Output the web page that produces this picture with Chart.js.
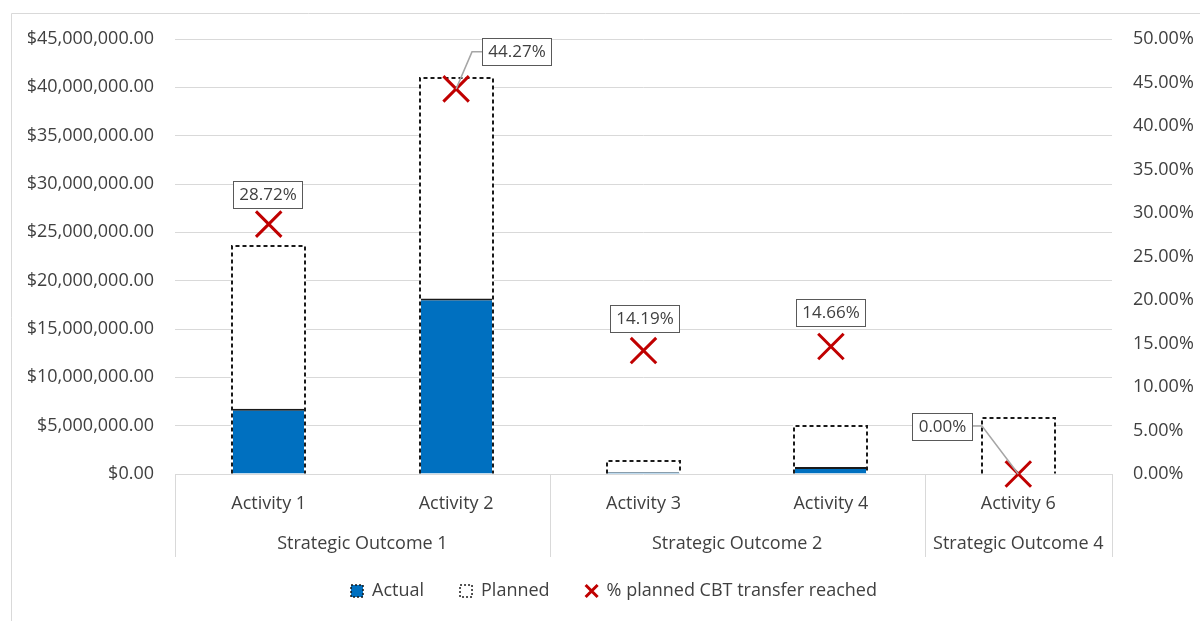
<!DOCTYPE html>
<html>
<head>
<meta charset="utf-8">
<title>CBT transfers by activity</title>
<script src="https://cdn.jsdelivr.net/npm/chart.js@4.4.1/dist/chart.umd.min.js"></script>
<style>
  html, body { margin: 0; padding: 0; background: #fff; }
</style>
</head>
<body>
<canvas id="myChart" width="1200" height="621"></canvas>
<script>
/* globals Chart:false */

// data
const categories = ['Activity 1', 'Activity 2', 'Activity 3', 'Activity 4', 'Activity 6']
const outcomes = ['Strategic Outcome 1', 'Strategic Outcome 2', 'Strategic Outcome 4']
const outcomeSpans = [2, 2, 1]
const actual = [6760000, 18150000, 190000, 730000, 0]
const planned = [23540000, 41000000, 1340000, 4980000, 5800000]
const reached = [28.72, 44.27, 14.19, 14.66, 0.00]

const textColor = '#404040'
const gridColor = '#d9d9d9'
const blue = '#0070c0'
const red = '#c00000'
const fontFamily = '"Open Sans", sans-serif'

// light frame round the chart (only left and top edges show)
const frame = {
  id: 'frame',
  beforeDraw(chart) {
    const c = chart.ctx
    c.save()
    c.fillStyle = '#fff'
    c.fillRect(0, 0, chart.width, chart.height)
    c.strokeStyle = gridColor
    c.lineWidth = 1
    c.beginPath()
    c.moveTo(11.5, chart.height)
    c.lineTo(11.5, 13.5)
    c.lineTo(chart.width, 13.5)
    c.stroke()
    c.restore()
  }
}

// dashed outline of the planned bars, drawn over the actual bars
const dashedPlanned = {
  id: 'dashedPlanned',
  afterDatasetDraw(chart, args) {
    if (args.index !== 0) return
    const meta = chart.getDatasetMeta(1)
    const c = chart.ctx
    c.save()
    c.lineWidth = 2
    meta.data.forEach(bar => {
      const { x, y, base, width } = bar.getProps(['x', 'y', 'base', 'width'], true)
      const l = Math.round(x - width / 2)
      const r = Math.round(x + width / 2)
      const t = Math.round(y)
      c.beginPath()
      c.moveTo(l, base)
      c.lineTo(l, t)
      c.lineTo(r, t)
      c.lineTo(r, base)
      c.setLineDash([])
      c.strokeStyle = '#fff'
      c.stroke()
      c.setLineDash([4, 3])
      c.strokeStyle = '#1a1a1a'
      c.stroke()
    })
    c.restore()
  }
}

// boxed value labels for the % series
const pointLabels = {
  id: 'pointLabels',
  afterDatasetsDraw(chart, args, opts) {
    const meta = chart.getDatasetMeta(2)
    const c = chart.ctx
    c.save()
    c.font = '17px ' + fontFamily
    meta.data.forEach((pt, i) => {
      const [dx, dy] = opts.offsets[i]
      const text = reached[i].toFixed(2) + '%'
      const w = Math.round(c.measureText(text).width + 12)
      const h = 27
      const cx = pt.x + dx
      const cy = pt.y + dy
      const l = Math.round(cx - w / 2)
      const t = Math.round(cy - h / 2)
      if (Math.abs(dx) > 20) {
        const side = dx > 0 ? l : l + w
        const elbow = dx > 0 ? side - 10 : side + 10
        c.beginPath()
        c.moveTo(side, cy)
        c.lineTo(elbow, cy)
        c.lineTo(pt.x, pt.y)
        c.strokeStyle = '#a6a6a6'
        c.lineWidth = 1.5
        c.stroke()
      }
      c.fillStyle = '#fff'
      c.fillRect(l, t, w, h)
      c.strokeStyle = '#595959'
      c.lineWidth = 1
      c.strokeRect(l + 0.5, t + 0.5, w, h)
      c.fillStyle = textColor
      c.textAlign = 'center'
      c.textBaseline = 'middle'
      c.fillText(text, l + w / 2 + 0.5, t + h / 2 + 1)
    })
    c.restore()
  }
}

// second row of the category axis: outcome groups with separators
const outcomeGroups = {
  id: 'outcomeGroups',
  afterDraw(chart, args, opts) {
    const xs = chart.scales.x
    const c = chart.ctx
    const step = xs.getPixelForValue(1) - xs.getPixelForValue(0)
    const top = chart.chartArea.bottom
    const bottom = top + opts.depth
    const edges = [xs.getPixelForValue(0) - step / 2]
    c.save()
    c.font = '18px ' + fontFamily
    c.fillStyle = textColor
    c.textAlign = 'center'
    c.textBaseline = 'middle'
    let i = 0
    outcomes.forEach((name, k) => {
      const left = xs.getPixelForValue(i) - step / 2
      const right = xs.getPixelForValue(i + outcomeSpans[k] - 1) + step / 2
      edges.push(right)
      c.fillText(name, (left + right) / 2, top + opts.labelOffset)
      i += outcomeSpans[k]
    })
    c.strokeStyle = gridColor
    c.lineWidth = 1
    c.beginPath()
    edges.forEach(e => {
      const px = Math.round(e) + 0.5
      c.moveTo(px, top)
      c.lineTo(px, bottom)
    })
    c.stroke()
    c.restore()
  }
}

const ctx = document.getElementById('myChart')
// eslint-disable-next-line no-unused-vars
const myChart = new Chart(ctx, {
  type: 'bar',
  data: {
    labels: categories,
    datasets: [{
      label: 'Actual',
      data: actual,
      backgroundColor: blue,
      borderColor: '#1a1a1a',
      borderWidth: c => (c.raw > 0 ? { top: 2, left: 0, right: 0, bottom: 0 } : 0),
      borderSkipped: false,
      grouped: false,
      categoryPercentage: 1,
      barPercentage: 0.39,
      yAxisID: 'y',
      order: 1
    }, {
      label: 'Planned',
      data: planned,
      backgroundColor: '#fff',
      borderWidth: 0,
      grouped: false,
      categoryPercentage: 1,
      barPercentage: 0.39,
      yAxisID: 'y',
      order: 2
    }, {
      type: 'line',
      label: '% planned CBT transfer reached',
      data: reached,
      showLine: false,
      clip: false,
      pointStyle: 'crossRot',
      pointRadius: 18,
      pointBorderWidth: 3,
      pointBorderColor: red,
      pointBackgroundColor: red,
      borderColor: red,
      yAxisID: 'y1',
      order: 0
    }]
  },
  options: {
    responsive: false,
    animation: false,
    events: [],
    layout: {
      padding: { top: 39, left: 28, right: 0, bottom: 11 }
    },
    scales: {
      x: {
        grid: { display: false },
        border: { display: false },
        ticks: {
          color: textColor,
          font: { family: fontFamily, size: 18 },
          padding: 11,
          maxRotation: 0
        },
        afterFit(s) { s.height = 72 }
      },
      y: {
        position: 'left',
        min: 0,
        max: 45000000,
        grid: { color: gridColor, drawTicks: false },
        border: { display: false },
        ticks: {
          stepSize: 5000000,
          padding: 21,
          color: textColor,
          font: { family: fontFamily, size: 18 },
          callback: v => '$' + v.toLocaleString('en-US', { minimumFractionDigits: 2, maximumFractionDigits: 2 })
        },
        afterFit(s) { s.width = 147 }
      },
      y1: {
        position: 'right',
        min: 0,
        max: 50,
        grid: { display: false, drawTicks: false },
        border: { display: false },
        ticks: {
          stepSize: 5,
          padding: 21,
          color: textColor,
          font: { family: fontFamily, size: 18 },
          callback: v => v.toFixed(2) + '%'
        },
        afterFit(s) { s.width = 88 }
      }
    },
    plugins: {
      legend: {
        position: 'bottom',
        labels: {
          usePointStyle: true,
          boxWidth: 12,
          boxHeight: 12,
          padding: 36,
          color: textColor,
          font: { family: fontFamily, size: 18 },
          generateLabels(chart) {
            const items = Chart.defaults.plugins.legend.labels.generateLabels(chart)
            items.forEach(item => {
              if (item.datasetIndex < 2) {
                item.pointStyle = 'rect'
                item.lineDash = [2, 2]
                item.lineWidth = 1.5
                item.strokeStyle = '#1a1a1a'
              } else {
                item.pointStyle = 'crossRot'
                item.lineWidth = 3
                item.strokeStyle = red
                item.fillStyle = red
              }
            })
            return items.sort((a, b) => a.datasetIndex - b.datasetIndex)
          }
        }
      },
      tooltip: { enabled: false },
      pointLabels: {
        offsets: [[-1, -30], [60, -37], [1, -32], [0, -34], [-76, -48]]
      },
      outcomeGroups: { depth: 83, labelOffset: 70 }
    }
  },
  plugins: [frame, dashedPlanned, pointLabels, outcomeGroups]
})
</script>
</body>
</html>
